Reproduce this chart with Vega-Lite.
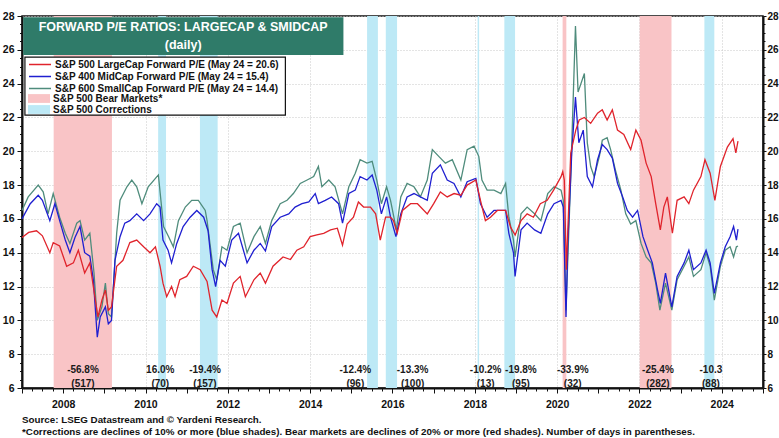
{
  "$schema": "https://vega.github.io/schema/vega-lite/v6.json",
  "width": 741,
  "height": 372,
  "autosize": {"type": "none"},
  "padding": {"left": 22, "top": 16, "right": 16, "bottom": 50},
  "background": "white",
  "config": {
    "font": "Liberation Sans",
    "view": {"stroke": "#111", "strokeWidth": 1.5},
    "axis": {"labelFont": "Liberation Sans", "labelFontWeight": "bold", "labelFontSize": 10.5, "labelColor": "#111", "domainColor": "#111", "domainWidth": 2, "tickColor": "#111", "tickSize": 4, "gridColor": "#c8c8c8", "gridDash": [1, 2], "gridWidth": 1, "title": null, "labelOverlap": false},
    "legend": {"orient": "none", "title": null, "padding": 0, "labelFont": "Liberation Sans", "labelFontWeight": "bold", "labelFontSize": 10, "labelColor": "#111", "labelLimit": 400, "rowPadding": 0, "labelOffset": 8.5, "symbolSize": 121}
  },
  "title": {
    "text": ["Source: LSEG Datastream and © Yardeni Research.", "*Corrections are declines of 10% or more (blue shades). Bear markets are declines of 20% or more (red shades). Number of days in parentheses."],
    "orient": "bottom", "anchor": "start", "frame": "group", "offset": 5,
    "font": "Liberation Sans", "fontSize": 9.8, "fontWeight": "bold", "color": "#111", "lineHeight": 12
  },
  "datasets": {
    "bands": [
      {"t": "B", "s": "2007-10-09", "e": "2009-03-09"},
      {"t": "C", "s": "2010-04-23", "e": "2010-07-02"},
      {"t": "C", "s": "2011-04-29", "e": "2011-10-03"},
      {"t": "C", "s": "2015-05-21", "e": "2015-08-25"},
      {"t": "C", "s": "2015-11-03", "e": "2016-02-11"},
      {"t": "C", "s": "2018-01-26", "e": "2018-02-08"},
      {"t": "C", "s": "2018-09-20", "e": "2018-12-24"},
      {"t": "B", "s": "2020-02-19", "e": "2020-03-23"},
      {"t": "B", "s": "2022-01-03", "e": "2022-10-12"},
      {"t": "C", "s": "2023-07-31", "e": "2023-10-27"}
    ],
    "notes": [
      {"d": "2008-06-25", "y": 7.05, "label": "-56.8%"}, {"d": "2008-06-25", "y": 6.22, "label": "(517)"},
      {"d": "2010-05-12", "y": 7.05, "label": "16.0%"}, {"d": "2010-05-12", "y": 6.22, "label": "(70)"},
      {"d": "2011-06-13", "y": 7.05, "label": "-19.4%"}, {"d": "2011-06-13", "y": 6.22, "label": "(157)"},
      {"d": "2015-02-06", "y": 7.05, "label": "-12.4%"}, {"d": "2015-02-06", "y": 6.22, "label": "(96)"},
      {"d": "2016-06-28", "y": 7.05, "label": "-13.3%"}, {"d": "2016-06-28", "y": 6.22, "label": "(100)"},
      {"d": "2018-04-07", "y": 7.05, "label": "-10.2%"}, {"d": "2018-04-07", "y": 6.22, "label": "(13)"},
      {"d": "2019-02-14", "y": 7.05, "label": "-19.8%"}, {"d": "2019-02-14", "y": 6.22, "label": "(95)"},
      {"d": "2020-05-19", "y": 7.05, "label": "-33.9%"}, {"d": "2020-05-19", "y": 6.22, "label": "(32)"},
      {"d": "2022-06-14", "y": 7.05, "label": "-25.4%"}, {"d": "2022-06-14", "y": 6.22, "label": "(282)"},
      {"d": "2023-09-27", "y": 7.05, "label": "-10.3"}, {"d": "2023-09-27", "y": 6.22, "label": "(88)"}
    ],
    "box": [{"s": "2007-01-12", "e": "2014-10-23", "y": 27.93, "y2": 25.69}],
    "legendbox": [{"s": "2007-01-27", "e": "2013-05-26", "y": 25.57, "y2": 22.14}],
    "boxtext": [
      {"d": "2010-12-01", "y": 27.37, "label": "FORWARD P/E RATIOS: LARGECAP & SMIDCAP"},
      {"d": "2010-12-01", "y": 26.28, "label": "(daily)"}
    ],
    "pe": [
      {"s":"S","d":"2007-01-01","v":16.5},{"s":"S","d":"2007-02-25","v":17.3},{"s":"S","d":"2007-05-25","v":18.0},{"s":"S","d":"2007-07-08","v":17.6},{"s":"S","d":"2007-08-20","v":16.3},{"s":"S","d":"2007-10-05","v":17.5},{"s":"S","d":"2007-12-01","v":16.1},{"s":"S","d":"2008-01-20","v":15.15},{"s":"S","d":"2008-03-01","v":14.55},{"s":"S","d":"2008-05-01","v":15.75},{"s":"S","d":"2008-05-30","v":15.9},{"s":"S","d":"2008-07-10","v":14.75},{"s":"S","d":"2008-08-25","v":15.15},{"s":"S","d":"2008-10-01","v":12.8},{"s":"S","d":"2008-10-30","v":10.0},{"s":"S","d":"2008-12-10","v":10.8},{"s":"S","d":"2009-01-10","v":12.2},{"s":"S","d":"2009-02-05","v":10.4},{"s":"S","d":"2009-03-05","v":10.2},{"s":"S","d":"2009-04-20","v":15.15},{"s":"S","d":"2009-05-20","v":17.1},{"s":"S","d":"2009-07-20","v":17.9},{"s":"S","d":"2009-09-01","v":18.3},{"s":"S","d":"2009-10-15","v":17.9},{"s":"S","d":"2009-11-30","v":16.9},{"s":"S","d":"2010-01-25","v":17.9},{"s":"S","d":"2010-03-30","v":18.4},{"s":"S","d":"2010-04-25","v":18.6},{"s":"S","d":"2010-06-10","v":15.55},{"s":"S","d":"2010-07-25","v":14.95},{"s":"S","d":"2010-09-05","v":14.35},{"s":"S","d":"2010-10-20","v":15.9},{"s":"S","d":"2010-12-20","v":16.7},{"s":"S","d":"2011-02-15","v":17.1},{"s":"S","d":"2011-04-15","v":17.1},{"s":"S","d":"2011-06-15","v":16.5},{"s":"S","d":"2011-07-01","v":15.9},{"s":"S","d":"2011-08-25","v":13.0},{"s":"S","d":"2011-09-25","v":12.4},{"s":"S","d":"2011-11-10","v":14.35},{"s":"S","d":"2011-12-25","v":14.15},{"s":"S","d":"2012-02-20","v":15.55},{"s":"S","d":"2012-04-20","v":15.75},{"s":"S","d":"2012-06-20","v":14.0},{"s":"S","d":"2012-08-20","v":14.95},{"s":"S","d":"2012-10-15","v":15.55},{"s":"S","d":"2012-11-30","v":14.55},{"s":"S","d":"2013-01-25","v":15.9},{"s":"S","d":"2013-04-10","v":16.9},{"s":"S","d":"2013-06-10","v":17.1},{"s":"S","d":"2013-08-05","v":17.5},{"s":"S","d":"2013-10-05","v":18.1},{"s":"S","d":"2013-12-05","v":18.3},{"s":"S","d":"2014-02-01","v":18.5},{"s":"S","d":"2014-03-15","v":19.1},{"s":"S","d":"2014-04-15","v":17.9},{"s":"S","d":"2014-06-15","v":18.3},{"s":"S","d":"2014-08-10","v":17.9},{"s":"S","d":"2014-10-15","v":16.3},{"s":"S","d":"2014-12-10","v":17.9},{"s":"S","d":"2015-02-05","v":18.7},{"s":"S","d":"2015-03-20","v":19.5},{"s":"S","d":"2015-05-20","v":19.3},{"s":"S","d":"2015-07-05","v":19.4},{"s":"S","d":"2015-08-15","v":18.3},{"s":"S","d":"2015-09-25","v":16.9},{"s":"S","d":"2015-11-10","v":17.9},{"s":"S","d":"2015-12-15","v":17.1},{"s":"S","d":"2016-02-05","v":15.35},{"s":"S","d":"2016-03-15","v":17.3},{"s":"S","d":"2016-05-10","v":18.1},{"s":"S","d":"2016-07-10","v":17.9},{"s":"S","d":"2016-09-05","v":17.3},{"s":"S","d":"2016-11-05","v":18.3},{"s":"S","d":"2016-12-20","v":20.1},{"s":"S","d":"2017-02-15","v":19.7},{"s":"S","d":"2017-04-15","v":19.3},{"s":"S","d":"2017-06-15","v":19.5},{"s":"S","d":"2017-08-30","v":18.3},{"s":"S","d":"2017-10-25","v":20.1},{"s":"S","d":"2017-12-25","v":20.3},{"s":"S","d":"2018-02-05","v":19.7},{"s":"S","d":"2018-03-05","v":18.3},{"s":"S","d":"2018-04-20","v":17.7},{"s":"S","d":"2018-06-20","v":17.7},{"s":"S","d":"2018-08-20","v":17.5},{"s":"S","d":"2018-10-01","v":18.1},{"s":"S","d":"2018-10-30","v":16.1},{"s":"S","d":"2018-12-10","v":14.75},{"s":"S","d":"2018-12-24","v":13.75},{"s":"S","d":"2019-02-15","v":16.3},{"s":"S","d":"2019-04-10","v":16.7},{"s":"S","d":"2019-06-15","v":16.3},{"s":"S","d":"2019-08-10","v":15.9},{"s":"S","d":"2019-10-10","v":17.5},{"s":"S","d":"2019-12-05","v":17.9},{"s":"S","d":"2020-02-05","v":17.7},{"s":"S","d":"2020-02-25","v":17.1},{"s":"S","d":"2020-03-20","v":10.6},{"s":"S","d":"2020-05-01","v":18.5},{"s":"S","d":"2020-06-12","v":27.4},{"s":"S","d":"2020-07-05","v":23.5},{"s":"S","d":"2020-08-30","v":24.6},{"s":"S","d":"2020-09-25","v":20.5},{"s":"S","d":"2020-10-25","v":19.1},{"s":"S","d":"2020-11-25","v":18.5},{"s":"S","d":"2021-01-10","v":19.7},{"s":"S","d":"2021-02-05","v":20.65},{"s":"S","d":"2021-03-20","v":20.8},{"s":"S","d":"2021-04-20","v":20.1},{"s":"S","d":"2021-06-01","v":18.9},{"s":"S","d":"2021-07-20","v":17.7},{"s":"S","d":"2021-09-01","v":16.3},{"s":"S","d":"2021-10-15","v":15.7},{"s":"S","d":"2021-11-30","v":15.9},{"s":"S","d":"2022-01-15","v":14.55},{"s":"S","d":"2022-03-01","v":13.75},{"s":"S","d":"2022-04-15","v":13.4},{"s":"S","d":"2022-05-25","v":12.2},{"s":"S","d":"2022-07-01","v":10.6},{"s":"S","d":"2022-08-20","v":12.2},{"s":"S","d":"2022-10-15","v":10.6},{"s":"S","d":"2022-12-01","v":12.4},{"s":"S","d":"2023-02-01","v":13.2},{"s":"S","d":"2023-03-15","v":13.75},{"s":"S","d":"2023-04-25","v":12.6},{"s":"S","d":"2023-06-30","v":13.0},{"s":"S","d":"2023-08-15","v":14.0},{"s":"S","d":"2023-09-20","v":13.2},{"s":"S","d":"2023-10-27","v":11.2},{"s":"S","d":"2023-12-20","v":13.2},{"s":"S","d":"2024-02-01","v":14.15},{"s":"S","d":"2024-03-15","v":14.35},{"s":"S","d":"2024-04-15","v":13.75},{"s":"S","d":"2024-05-10","v":14.35},{"s":"S","d":"2024-05-24","v":14.4},
      {"s":"M","d":"2007-01-01","v":16.0},{"s":"M","d":"2007-03-15","v":16.9},{"s":"M","d":"2007-05-25","v":17.4},{"s":"M","d":"2007-07-01","v":17.1},{"s":"M","d":"2007-09-05","v":15.9},{"s":"M","d":"2007-10-20","v":16.9},{"s":"M","d":"2007-12-01","v":15.9},{"s":"M","d":"2008-01-20","v":14.75},{"s":"M","d":"2008-03-01","v":14.0},{"s":"M","d":"2008-04-15","v":14.9},{"s":"M","d":"2008-05-30","v":15.55},{"s":"M","d":"2008-07-10","v":14.0},{"s":"M","d":"2008-08-25","v":13.8},{"s":"M","d":"2008-09-25","v":12.4},{"s":"M","d":"2008-10-30","v":9.0},{"s":"M","d":"2008-11-25","v":10.2},{"s":"M","d":"2009-01-10","v":10.8},{"s":"M","d":"2009-02-05","v":9.8},{"s":"M","d":"2009-03-05","v":10.0},{"s":"M","d":"2009-04-05","v":13.55},{"s":"M","d":"2009-05-20","v":14.95},{"s":"M","d":"2009-07-01","v":15.75},{"s":"M","d":"2009-08-15","v":15.9},{"s":"M","d":"2009-10-15","v":16.3},{"s":"M","d":"2009-12-15","v":15.9},{"s":"M","d":"2010-02-10","v":16.3},{"s":"M","d":"2010-04-10","v":16.9},{"s":"M","d":"2010-05-10","v":16.7},{"s":"M","d":"2010-06-05","v":14.75},{"s":"M","d":"2010-07-20","v":14.15},{"s":"M","d":"2010-08-20","v":13.4},{"s":"M","d":"2010-10-05","v":14.55},{"s":"M","d":"2010-12-01","v":15.55},{"s":"M","d":"2011-02-01","v":16.1},{"s":"M","d":"2011-04-01","v":16.5},{"s":"M","d":"2011-06-01","v":16.1},{"s":"M","d":"2011-07-10","v":15.3},{"s":"M","d":"2011-08-15","v":13.0},{"s":"M","d":"2011-09-15","v":12.0},{"s":"M","d":"2011-10-25","v":13.55},{"s":"M","d":"2011-12-10","v":13.2},{"s":"M","d":"2012-02-05","v":14.75},{"s":"M","d":"2012-04-05","v":15.15},{"s":"M","d":"2012-06-20","v":13.4},{"s":"M","d":"2012-08-20","v":14.15},{"s":"M","d":"2012-10-15","v":14.55},{"s":"M","d":"2012-11-30","v":14.1},{"s":"M","d":"2013-01-25","v":15.55},{"s":"M","d":"2013-04-10","v":16.1},{"s":"M","d":"2013-06-25","v":16.3},{"s":"M","d":"2013-08-20","v":16.7},{"s":"M","d":"2013-10-20","v":16.9},{"s":"M","d":"2013-12-20","v":17.0},{"s":"M","d":"2014-02-15","v":17.5},{"s":"M","d":"2014-03-15","v":16.9},{"s":"M","d":"2014-05-15","v":17.1},{"s":"M","d":"2014-07-10","v":17.3},{"s":"M","d":"2014-09-10","v":16.9},{"s":"M","d":"2014-10-15","v":15.75},{"s":"M","d":"2014-12-10","v":17.5},{"s":"M","d":"2015-02-05","v":17.7},{"s":"M","d":"2015-03-20","v":18.5},{"s":"M","d":"2015-05-20","v":18.3},{"s":"M","d":"2015-07-05","v":18.6},{"s":"M","d":"2015-08-15","v":17.7},{"s":"M","d":"2015-09-25","v":16.3},{"s":"M","d":"2015-11-10","v":17.3},{"s":"M","d":"2015-12-15","v":16.1},{"s":"M","d":"2016-02-01","v":14.95},{"s":"M","d":"2016-03-15","v":16.3},{"s":"M","d":"2016-05-10","v":17.3},{"s":"M","d":"2016-07-10","v":17.5},{"s":"M","d":"2016-09-05","v":17.3},{"s":"M","d":"2016-11-05","v":17.1},{"s":"M","d":"2016-12-20","v":18.7},{"s":"M","d":"2017-03-01","v":19.2},{"s":"M","d":"2017-05-01","v":18.3},{"s":"M","d":"2017-06-30","v":18.1},{"s":"M","d":"2017-08-30","v":17.3},{"s":"M","d":"2017-10-25","v":18.2},{"s":"M","d":"2018-01-10","v":18.4},{"s":"M","d":"2018-02-20","v":16.9},{"s":"M","d":"2018-04-20","v":16.1},{"s":"M","d":"2018-06-20","v":16.5},{"s":"M","d":"2018-08-20","v":16.5},{"s":"M","d":"2018-10-01","v":16.5},{"s":"M","d":"2018-10-30","v":15.15},{"s":"M","d":"2018-12-10","v":14.0},{"s":"M","d":"2018-12-24","v":12.6},{"s":"M","d":"2019-02-15","v":15.35},{"s":"M","d":"2019-04-10","v":15.75},{"s":"M","d":"2019-06-15","v":15.35},{"s":"M","d":"2019-08-10","v":15.15},{"s":"M","d":"2019-10-10","v":16.3},{"s":"M","d":"2019-12-05","v":16.9},{"s":"M","d":"2020-02-05","v":17.1},{"s":"M","d":"2020-02-25","v":16.7},{"s":"M","d":"2020-03-20","v":10.2},{"s":"M","d":"2020-04-05","v":14.55},{"s":"M","d":"2020-05-10","v":19.9},{"s":"M","d":"2020-06-12","v":23.2},{"s":"M","d":"2020-07-12","v":20.5},{"s":"M","d":"2020-08-20","v":21.25},{"s":"M","d":"2020-09-25","v":18.5},{"s":"M","d":"2020-11-10","v":17.9},{"s":"M","d":"2020-12-25","v":19.5},{"s":"M","d":"2021-02-05","v":20.4},{"s":"M","d":"2021-03-20","v":20.1},{"s":"M","d":"2021-05-05","v":19.6},{"s":"M","d":"2021-06-20","v":18.1},{"s":"M","d":"2021-08-05","v":17.3},{"s":"M","d":"2021-09-15","v":16.5},{"s":"M","d":"2021-11-01","v":16.1},{"s":"M","d":"2021-12-15","v":16.5},{"s":"M","d":"2022-02-01","v":14.95},{"s":"M","d":"2022-03-15","v":14.15},{"s":"M","d":"2022-04-25","v":13.4},{"s":"M","d":"2022-06-10","v":11.8},{"s":"M","d":"2022-07-05","v":11.0},{"s":"M","d":"2022-08-20","v":12.8},{"s":"M","d":"2022-10-15","v":10.8},{"s":"M","d":"2022-12-01","v":12.6},{"s":"M","d":"2023-02-01","v":13.4},{"s":"M","d":"2023-03-15","v":14.15},{"s":"M","d":"2023-04-25","v":13.0},{"s":"M","d":"2023-06-30","v":13.4},{"s":"M","d":"2023-08-15","v":14.15},{"s":"M","d":"2023-09-20","v":13.4},{"s":"M","d":"2023-10-27","v":11.6},{"s":"M","d":"2023-12-20","v":13.4},{"s":"M","d":"2024-02-01","v":14.35},{"s":"M","d":"2024-03-15","v":14.95},{"s":"M","d":"2024-04-15","v":15.55},{"s":"M","d":"2024-05-10","v":14.75},{"s":"M","d":"2024-05-24","v":15.4},
      {"s":"L","d":"2007-01-01","v":14.9},{"s":"L","d":"2007-03-01","v":15.2},{"s":"L","d":"2007-05-10","v":15.3},{"s":"L","d":"2007-07-01","v":15.0},{"s":"L","d":"2007-09-05","v":14.0},{"s":"L","d":"2007-10-05","v":14.6},{"s":"L","d":"2007-12-01","v":14.4},{"s":"L","d":"2008-02-01","v":13.2},{"s":"L","d":"2008-04-01","v":13.4},{"s":"L","d":"2008-05-15","v":14.15},{"s":"L","d":"2008-07-10","v":12.8},{"s":"L","d":"2008-08-25","v":13.4},{"s":"L","d":"2008-09-25","v":12.0},{"s":"L","d":"2008-11-05","v":10.2},{"s":"L","d":"2008-12-10","v":11.2},{"s":"L","d":"2009-01-10","v":11.8},{"s":"L","d":"2009-02-05","v":10.6},{"s":"L","d":"2009-03-05","v":10.8},{"s":"L","d":"2009-04-20","v":13.2},{"s":"L","d":"2009-06-15","v":13.55},{"s":"L","d":"2009-08-15","v":14.6},{"s":"L","d":"2009-10-15","v":14.75},{"s":"L","d":"2009-12-15","v":14.35},{"s":"L","d":"2010-02-10","v":14.0},{"s":"L","d":"2010-03-30","v":14.35},{"s":"L","d":"2010-05-10","v":13.2},{"s":"L","d":"2010-06-05","v":12.2},{"s":"L","d":"2010-07-08","v":11.4},{"s":"L","d":"2010-08-20","v":12.0},{"s":"L","d":"2010-09-20","v":11.4},{"s":"L","d":"2010-11-01","v":12.4},{"s":"L","d":"2011-01-01","v":12.6},{"s":"L","d":"2011-03-01","v":13.2},{"s":"L","d":"2011-05-01","v":13.0},{"s":"L","d":"2011-07-01","v":12.3},{"s":"L","d":"2011-08-15","v":10.6},{"s":"L","d":"2011-09-25","v":10.2},{"s":"L","d":"2011-11-10","v":11.2},{"s":"L","d":"2011-12-25","v":11.0},{"s":"L","d":"2012-02-20","v":12.2},{"s":"L","d":"2012-04-20","v":12.6},{"s":"L","d":"2012-06-05","v":11.4},{"s":"L","d":"2012-08-20","v":12.4},{"s":"L","d":"2012-10-15","v":12.8},{"s":"L","d":"2012-11-30","v":12.2},{"s":"L","d":"2013-02-05","v":13.2},{"s":"L","d":"2013-05-05","v":13.75},{"s":"L","d":"2013-07-10","v":13.6},{"s":"L","d":"2013-09-05","v":14.15},{"s":"L","d":"2013-11-05","v":14.35},{"s":"L","d":"2014-01-01","v":14.95},{"s":"L","d":"2014-03-01","v":15.05},{"s":"L","d":"2014-05-01","v":15.15},{"s":"L","d":"2014-07-01","v":15.35},{"s":"L","d":"2014-08-30","v":15.45},{"s":"L","d":"2014-10-15","v":14.45},{"s":"L","d":"2014-11-25","v":15.7},{"s":"L","d":"2015-01-20","v":16.1},{"s":"L","d":"2015-03-05","v":17.0},{"s":"L","d":"2015-04-20","v":16.7},{"s":"L","d":"2015-06-20","v":16.7},{"s":"L","d":"2015-08-05","v":16.3},{"s":"L","d":"2015-09-15","v":14.75},{"s":"L","d":"2015-11-01","v":16.1},{"s":"L","d":"2015-12-15","v":16.1},{"s":"L","d":"2016-01-10","v":15.9},{"s":"L","d":"2016-02-12","v":15.15},{"s":"L","d":"2016-03-30","v":16.5},{"s":"L","d":"2016-06-10","v":16.9},{"s":"L","d":"2016-08-10","v":16.9},{"s":"L","d":"2016-11-05","v":16.3},{"s":"L","d":"2017-01-01","v":16.9},{"s":"L","d":"2017-03-01","v":17.6},{"s":"L","d":"2017-05-01","v":17.3},{"s":"L","d":"2017-07-01","v":17.5},{"s":"L","d":"2017-08-30","v":17.4},{"s":"L","d":"2017-10-25","v":18.0},{"s":"L","d":"2018-01-10","v":18.3},{"s":"L","d":"2018-02-20","v":17.1},{"s":"L","d":"2018-04-05","v":15.9},{"s":"L","d":"2018-05-20","v":16.1},{"s":"L","d":"2018-07-20","v":16.5},{"s":"L","d":"2018-10-01","v":16.5},{"s":"L","d":"2018-11-15","v":15.5},{"s":"L","d":"2018-12-25","v":15.05},{"s":"L","d":"2019-02-15","v":15.9},{"s":"L","d":"2019-04-10","v":16.3},{"s":"L","d":"2019-06-05","v":16.1},{"s":"L","d":"2019-08-05","v":16.9},{"s":"L","d":"2019-10-05","v":17.1},{"s":"L","d":"2019-12-01","v":17.7},{"s":"L","d":"2020-02-05","v":18.5},{"s":"L","d":"2020-02-20","v":18.8},{"s":"L","d":"2020-03-05","v":18.3},{"s":"L","d":"2020-03-23","v":13.0},{"s":"L","d":"2020-05-01","v":19.9},{"s":"L","d":"2020-06-15","v":21.25},{"s":"L","d":"2020-07-15","v":21.85},{"s":"L","d":"2020-08-30","v":22.0},{"s":"L","d":"2020-10-25","v":21.65},{"s":"L","d":"2020-12-25","v":22.25},{"s":"L","d":"2021-02-05","v":22.45},{"s":"L","d":"2021-03-20","v":21.85},{"s":"L","d":"2021-05-05","v":22.45},{"s":"L","d":"2021-06-20","v":21.25},{"s":"L","d":"2021-08-15","v":21.0},{"s":"L","d":"2021-10-15","v":20.1},{"s":"L","d":"2021-11-30","v":21.25},{"s":"L","d":"2022-01-15","v":20.65},{"s":"L","d":"2022-03-01","v":19.3},{"s":"L","d":"2022-04-15","v":18.5},{"s":"L","d":"2022-05-25","v":16.9},{"s":"L","d":"2022-07-05","v":15.35},{"s":"L","d":"2022-08-05","v":16.7},{"s":"L","d":"2022-09-05","v":17.3},{"s":"L","d":"2022-10-20","v":15.15},{"s":"L","d":"2022-12-01","v":17.1},{"s":"L","d":"2023-02-01","v":17.3},{"s":"L","d":"2023-03-15","v":16.9},{"s":"L","d":"2023-04-25","v":17.7},{"s":"L","d":"2023-06-30","v":18.5},{"s":"L","d":"2023-08-05","v":19.5},{"s":"L","d":"2023-09-20","v":18.7},{"s":"L","d":"2023-11-01","v":17.1},{"s":"L","d":"2023-12-20","v":19.1},{"s":"L","d":"2024-02-20","v":20.25},{"s":"L","d":"2024-04-10","v":20.75},{"s":"L","d":"2024-05-05","v":19.9},{"s":"L","d":"2024-05-24","v":20.6}
    ]
  },
  "layer": [
    {
      "data": {"name": "bands"},
      "mark": {"type": "rect", "opacity": 1},
      "encoding": {
        "x": {"field": "s", "type": "temporal", "scale": {"domain": ["2007-01-01", "2025-01-01"]},
              "axis": {"tickCount": {"interval": "month", "step": 3}, "grid": true, "labelPadding": 6,
                       "labelExpr": "month(datum.value) == 0 && year(datum.value) % 2 == 0 ? timeFormat(datum.value, '%Y') : ''",
                       "tickSize": {"condition": {"test": "month(datum.value) == 0", "value": 5}, "value": 3},
                       "gridOpacity": {"condition": {"test": "month(datum.value) == 0 && year(datum.value) % 2 == 0", "value": 1}, "value": 0}}},
        "x2": {"field": "e"},
        "fill": {"field": "t", "type": "nominal",
          "scale": {"domain": ["B", "C"], "range": ["#f9c4c6", "#bde9f6"]},
          "legend": {
            "legendX": 11.5, "legendY": 77,
            "symbolType": "M-2,-0.8L2,-0.8L2,0.8L-2,0.8Z", "symbolStrokeWidth": 0,
            "labelExpr": "datum.value == 'B' ? 'S&P 500 Bear Markets*' : 'S&P 500 Corrections'"
          }}
      }
    },
    {
      "data": {"name": "pe"},
      "mark": {"type": "line", "strokeWidth": 1.3},
      "encoding": {
        "x": {"field": "d", "type": "temporal"},
        "y": {"field": "v", "type": "quantitative", "scale": {"domain": [6, 28], "nice": false, "zero": false},
              "axis": {"orient": "left", "values": [6,6.5,7,7.5,8,8.5,9,9.5,10,10.5,11,11.5,12,12.5,13,13.5,14,14.5,15,15.5,16,16.5,17,17.5,18,18.5,19,19.5,20,20.5,21,21.5,22,22.5,23,23.5,24,24.5,25,25.5,26,26.5,27,27.5,28], "grid": true, "labelPadding": 3,
                       "labelExpr": "datum.value % 2 == 0 ? format(datum.value, 'd') : ''",
                       "tickSize": {"condition": {"test": "datum.value % 2 == 0", "value": 5}, "value": 2.5},
                       "gridOpacity": {"condition": {"test": "datum.value % 2 == 0", "value": 1}, "value": 0}}},
        "stroke": {"field": "s", "type": "nominal",
          "scale": {"domain": ["L", "M", "S"], "range": ["#e0242c", "#1f1fd0", "#4f8c7c"]},
          "legend": {
            "legendX": 11.5, "legendY": 42,
            "symbolType": "M-2,0L2,0", "symbolStrokeWidth": 1.5,
            "labelExpr": "datum.value == 'L' ? 'S&P 500 LargeCap Forward P/E (May 24 = 20.6)' : datum.value == 'M' ? 'S&P 400 MidCap Forward P/E (May 24 = 15.4)' : 'S&P 600 SmallCap Forward P/E (May 24 = 14.4)'"
          }}
      }
    },
    {
      "data": {"name": "legendbox"},
      "mark": {"type": "rect", "fill": "white", "stroke": "#111", "strokeWidth": 1.2},
      "encoding": {
        "x": {"field": "s", "type": "temporal"},
        "x2": {"field": "e"},
        "y": {"field": "y", "type": "quantitative", "axis": null},
        "y2": {"field": "y2"}
      }
    },
    {
      "data": {"name": "box"},
      "mark": {"type": "rect", "color": "#2f7b69"},
      "encoding": {
        "x": {"field": "s", "type": "temporal"},
        "x2": {"field": "e"},
        "y": {"field": "y", "type": "quantitative", "axis": null},
        "y2": {"field": "y2"}
      }
    },
    {
      "data": {"name": "boxtext"},
      "mark": {"type": "text", "color": "white", "font": "Liberation Sans", "fontWeight": "bold", "fontSize": 12.5},
      "encoding": {
        "x": {"field": "d", "type": "temporal"},
        "y": {"field": "y", "type": "quantitative", "axis": null},
        "text": {"field": "label"}
      }
    },
    {
      "data": {"name": "notes"},
      "mark": {"type": "text", "color": "#1a1a1a", "font": "Liberation Sans", "fontWeight": "bold", "fontSize": 10},
      "encoding": {
        "x": {"field": "d", "type": "temporal"},
        "y": {"field": "y", "type": "quantitative",
              "axis": {"orient": "right", "values": [6,6.5,7,7.5,8,8.5,9,9.5,10,10.5,11,11.5,12,12.5,13,13.5,14,14.5,15,15.5,16,16.5,17,17.5,18,18.5,19,19.5,20,20.5,21,21.5,22,22.5,23,23.5,24,24.5,25,25.5,26,26.5,27,27.5,28], "grid": false, "labelPadding": 1, "labelFontSize": 10,
                       "labelExpr": "datum.value % 2 == 0 ? format(datum.value, 'd') : ''",
                       "tickSize": {"condition": {"test": "datum.value % 2 == 0", "value": 3}, "value": 2}}},
        "text": {"field": "label"}
      }
    }
  ],
  "resolve": {"axis": {"y": "independent"}}
}
